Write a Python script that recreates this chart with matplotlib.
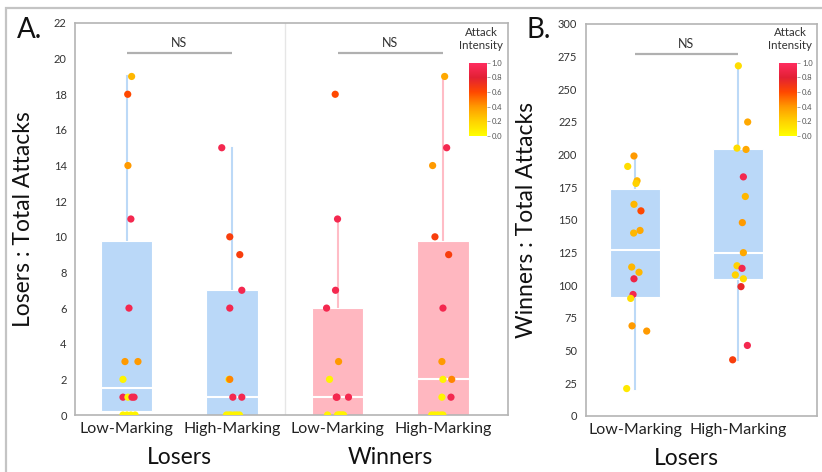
import numpy as np
import matplotlib
matplotlib.use("Agg")
import matplotlib.pyplot as plt
from matplotlib.colors import LinearSegmentedColormap, Normalize
from matplotlib.cm import ScalarMappable
from matplotlib.patches import Rectangle
import matplotlib.transforms as mtransforms

plt.rcParams['font.family'] = ['Lato', 'DejaVu Sans']

# ---------------- data ----------------
group_names_A = ['Losers', 'Winners']
tick_labels_A = ['Low-Marking', 'High-Marking', 'Low-Marking', 'High-Marking']
tick_labels_B = ['Low-Marking', 'High-Marking']
group_names_B = ['Losers']

# Panel A: Losers : Total Attacks
losers_low_vals = [19, 18, 14, 11, 6, 3, 3, 2, 1, 1, 1, 1, 0, 0, 0, 0]
losers_low_int = [0.3, 0.6, 0.4, 0.92, 0.92, 0.4, 0.4, 0.05, 0.92, 0.05, 0.92, 0.92, 0.05, 0.05, 0.05, 0.05]
losers_low_jit = [0.047, 0.01, 0.012, 0.04, 0.022, -0.016, 0.107, -0.035, -0.035, 0.012, 0.05, 0.07, -0.035, 0.003, 0.04, 0.08]

losers_high_vals = [15, 10, 9, 7, 6, 2, 2, 1, 1, 0, 0, 0, 0, 0, 0]
losers_high_int = [0.92, 0.65, 0.65, 0.92, 0.92, 0.05, 0.45, 0.92, 0.92, 0.05, 0.05, 0.05, 0.05, 0.05, 0.05]
losers_high_jit = [-0.098, -0.022, 0.073, 0.092, -0.022, -0.03, -0.022, 0.007, 0.092, -0.053, -0.03, -0.01, 0.02, 0.045, 0.07]

winners_low_vals = [18, 11, 7, 6, 3, 2, 1, 1, 1, 0, 0, 0, 0, 0, 0]
winners_low_int = [0.6, 0.92, 0.92, 0.92, 0.4, 0.05, 0.92, 0.92, 0.92, 0.05, 0.05, 0.05, 0.05, 0.05, 0.05]
winners_low_jit = [-0.022, 0.0, -0.019, -0.104, 0.01, -0.076, -0.012, -0.005, 0.104, -0.095, 0.0, 0.015, 0.028, 0.045, 0.057]

winners_high_vals = [19, 15, 14, 10, 9, 6, 3, 2, 2, 1, 1, 0, 0, 0, 0, 0]
winners_high_int = [0.35, 0.92, 0.4, 0.65, 0.65, 0.92, 0.4, 0.05, 0.45, 0.05, 0.92, 0.05, 0.05, 0.05, 0.05, 0.05]
winners_high_jit = [0.016, 0.035, -0.098, -0.076, 0.054, 0.0, -0.01, 0.0, 0.083, -0.01, 0.076, -0.107, -0.08, -0.05, -0.02, 0.0]

# Panel B: Winners : Total Attacks (Losers groups)
b_low_vals = [199, 191, 180, 178, 162, 157, 142, 140, 114, 110, 105, 93, 90, 69, 65, 21]
b_low_int = [0.4, 0.15, 0.3, 0.2, 0.3, 0.6, 0.35, 0.3, 0.3, 0.3, 0.88, 0.92, 0.15, 0.4, 0.4, 0.1]
b_low_jit = [-0.01, -0.071, 0.02, 0.01, -0.01, 0.058, 0.049, -0.013, -0.032, 0.039, -0.01, -0.019, -0.042, -0.029, 0.114, -0.081]

b_high_vals = [268, 225, 205, 204, 183, 168, 148, 125, 115, 113, 108, 105, 99, 54, 43]
b_high_int = [0.15, 0.35, 0.15, 0.35, 0.92, 0.3, 0.4, 0.35, 0.2, 0.92, 0.2, 0.15, 0.75, 0.92, 0.65]
b_high_jit = [0.006, 0.097, -0.007, 0.081, 0.055, 0.074, 0.045, 0.055, -0.007, 0.042, -0.023, 0.055, 0.032, 0.094, -0.049]

cbar_ticks = [0.0, 0.2, 0.4, 0.6, 0.8, 1.0]

# ---------------- style ----------------
W, H = 822, 472
BLUE = '#bad8f8'
BLUE_W = '#bcd9f7'
PINK = '#ffb7c0'
PINK_W = '#ffbcc6'
SPINE = '#b4b4b4'
TXT = '#222222'

cmap = LinearSegmentedColormap.from_list(
    'attack', [(0.0, '#ffff00'), (0.2, '#ffd200'), (0.4, '#ff9a00'),
               (0.6, '#ff4800'), (0.8, '#e22034'), (1.0, '#ff2d60')])
norm = Normalize(0, 1)


def box_stats(vals):
    v = np.asarray(vals, float)
    q1, med, q3 = np.percentile(v, [25, 50, 75], method='weibull')
    iqr = q3 - q1
    lo = v[v >= q1 - 1.5 * iqr].min()
    hi = v[v <= q3 + 1.5 * iqr].max()
    return dict(med=med, q1=q1, q3=q3, whislo=lo, whishi=hi, fliers=[])


def fr(x0, y0, x1, y1):
    """pixel box -> figure fraction rect"""
    return [x0 / W, 1 - y1 / H, (x1 - x0) / W, (y1 - y0) / H]


fig = plt.figure(figsize=(W / 100, H / 100), dpi=100)
fig.patch.set_facecolor('white')

# outer gray frame
fig.patches.append(Rectangle((6 / W, -0.1), 1.2, 1.1 - 8 / H, transform=fig.transFigure,
                             fill=False, edgecolor='#c4c4c4', linewidth=1.6, zorder=0))

axA = fig.add_axes(fr(75, 23, 507.6, 415))
axB = fig.add_axes(fr(585.7, 24, 816.5, 416))


def style_axes(ax):
    for s in ax.spines.values():
        s.set_color(SPINE)
        s.set_linewidth(1.2)
    ax.tick_params(axis='both', length=0, colors=TXT)
    ax.tick_params(axis='y', labelsize=8, pad=6, labelcolor='#333333')
    ax.tick_params(axis='x', labelsize=11.5, pad=5)


def draw_boxes(ax, datasets, positions, colors, wcolors):
    stats = [box_stats(d) for d in datasets]
    bp = ax.bxp(stats, positions=positions, widths=0.49, patch_artist=True,
                showfliers=False, showcaps=False,
                medianprops=dict(color='white', linewidth=1.5),
                whiskerprops=dict(linewidth=1.5), boxprops=dict(linewidth=0.8))
    for i, b in enumerate(bp['boxes']):
        b.set_facecolor(colors[i])
        b.set_edgecolor('#ffffff')
        b.set_zorder(1)
    for i, w in enumerate(bp['whiskers']):
        w.set_color(wcolors[i // 2])
        w.set_zorder(0.9)
    for m in bp['medians']:
        m.set_zorder(1.5)


def draw_points(ax, pos, vals, ints, jit):
    x = pos + np.asarray(jit)
    ax.scatter(x, vals, c=ints, cmap=cmap, norm=norm, s=27, linewidths=0, zorder=3)


# ---- Panel A ----
style_axes(axA)
dataA = [losers_low_vals, losers_high_vals, winners_low_vals, winners_high_vals]
intA = [losers_low_int, losers_high_int, winners_low_int, winners_high_int]
jitA = [losers_low_jit, losers_high_jit, winners_low_jit, winners_high_jit]
posA = np.arange(4)
draw_boxes(axA, dataA, posA, [BLUE, BLUE, PINK, PINK], [BLUE_W, BLUE_W, PINK_W, PINK_W])
for p, v, c, j in zip(posA, dataA, intA, jitA):
    draw_points(axA, p, v, c, j)
axA.set_xlim(-0.49, 3.613)
axA.set_ylim(0, 22)
axA.set_yticks(np.arange(0, 23, 2))
axA.set_xticks(posA)
axA.set_xticklabels(tick_labels_A)
axA.axvline(1.5, color='#e6e6e6', linewidth=1.0, zorder=0)
axA.set_ylabel('Losers : Total Attacks', fontsize=16.5, color='#111111')
axA.yaxis.set_label_coords(-0.095, 0.5)

transA = mtransforms.blended_transform_factory(axA.transData, axA.transAxes)
for k, g in enumerate(group_names_A):
    axA.text(2 * k + 0.5, -0.108, g, transform=transA, ha='center', va='center',
             fontsize=16.5, color='#111111')
# NS brackets
for k in range(2):
    axA.plot([2 * k, 2 * k + 1], [0.9235, 0.9235], transform=transA, color='#b0b0b0',
             linewidth=1.6, clip_on=False, solid_capstyle='butt')
    axA.text(2 * k + 0.5, 0.95, 'NS', transform=transA, ha='center', va='center',
             fontsize=9, color='#333333')

# ---- Panel B ----
style_axes(axB)
dataB = [b_low_vals, b_high_vals]
intB = [b_low_int, b_high_int]
jitB = [b_low_jit, b_high_jit]
posB = np.arange(2)
draw_boxes(axB, dataB, posB, [BLUE, BLUE], [BLUE_W, BLUE_W])
for p, v, c, j in zip(posB, dataB, intB, jitB):
    draw_points(axB, p, v, c, j)
axB.set_xlim(-0.48, 1.767)
axB.set_ylim(0, 300)
axB.set_yticks(np.arange(0, 301, 25))
axB.set_xticks(posB)
axB.set_xticklabels(tick_labels_B)
axB.set_ylabel('Winners : Total Attacks', fontsize=16.5, color='#111111')
axB.yaxis.set_label_coords(-0.209, 0.5)
transB = mtransforms.blended_transform_factory(axB.transData, axB.transAxes)
axB.text(0.5, -0.108, group_names_B[0], transform=transB, ha='center', va='center',
         fontsize=16.5, color='#111111')
axB.plot([0, 1], [0.9235, 0.9235], transform=transB, color='#b0b0b0',
         linewidth=1.6, clip_on=False, solid_capstyle='butt')
axB.text(0.5, 0.95, 'NS', transform=transB, ha='center', va='center',
         fontsize=9, color='#333333')

# ---- colorbars ----
for (x0, x1, tx) in [(469.3, 486.7, 481), (779.3, 797.3, 790)]:
    cax = fig.add_axes(fr(x0, 62.7, x1, 136))
    cb = fig.colorbar(ScalarMappable(norm=norm, cmap=cmap), cax=cax, ticks=cbar_ticks)
    cb.outline.set_visible(False)
    cb.ax.tick_params(labelsize=5.5, length=2, width=0.6, color='#999999',
                      labelcolor='#555555', pad=1.5)
    cb.ax.set_yticklabels([f'{t:.1f}' for t in cbar_ticks])
    fig.text(tx / W, 1 - 39 / H, 'Attack\nIntensity', ha='center', va='center',
             fontsize=8.3, color='#333333', linespacing=1.25)

# panel labels
fig.text(17 / W, 1 - 30 / H, 'A.', fontsize=20, ha='left', va='center', color='#111111')
fig.text(526 / W, 1 - 30 / H, 'B.', fontsize=20, ha='left', va='center', color='#111111')

fig.savefig('out.png', dpi=100)
